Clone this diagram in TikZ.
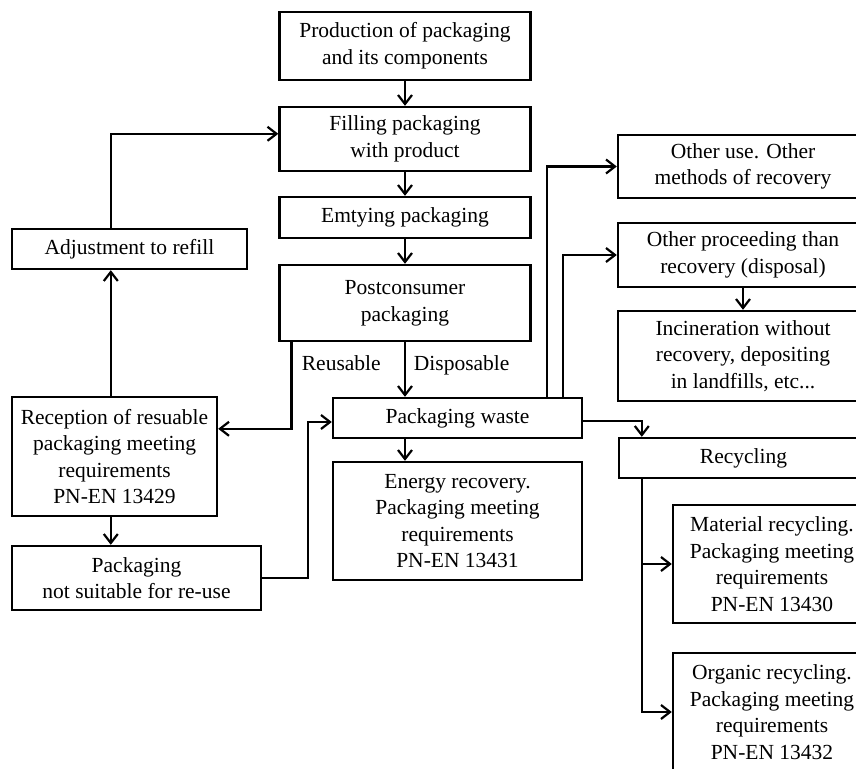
\documentclass[tikz,border=0pt]{standalone}
\usepackage{fontspec}
\setmainfont{Liberation Serif}
\usetikzlibrary{arrows.meta,calc}

\tikzset{
  box/.style={draw, line width=1.2pt, align=center, inner sep=1pt,
    font=\fontsize{10.75}{13.3}\selectfont},
  arr/.style={line width=1.2pt, -{Straight Barb[length=4.5pt,width=7pt,line width=1.1pt]}},
  lbl/.style={inner sep=0.75pt, font=\fontsize{10.75}{13.3}\selectfont}
}

\begin{document}
\begin{tikzpicture}[x=0.5pt,y=0.5pt,yscale=-1,xscale=1]
\useasboundingbox (0,0) rectangle (856,769);
\clip (0,0) rectangle (856,769);

% main column
\node [box, minimum width=125.5pt, minimum height=34pt] (prod) at (405,46) {Production of packaging\\and its components};
\node [box, minimum width=125.5pt, minimum height=32pt] (fill) at (405,139) {Filling packaging\\with product};
\node [box, minimum width=125.5pt, minimum height=20.5pt] (empty) at (405,217.5) {Emtying packaging};
\node [box, minimum width=125.5pt, minimum height=38pt] (post) at (405,303) {Postconsumer\\packaging};
\node [box, minimum width=124.5pt, minimum height=20pt] (waste) at (457.5,418) {Packaging waste};
\node [box, minimum width=124.5pt, minimum height=59pt] (energy) at (457.5,521) {Energy recovery.\\Packaging meeting\\requirements\\PN-EN 13431};

% left column
\node [box, minimum width=117.5pt, minimum height=20pt] (adjust) at (129.5,249) {Adjustment to refill};
\node [box, minimum width=102.5pt, minimum height=59.5pt] (recep) at (114.5,456.5) {Reception of resuable\\packaging meeting\\requirements\\PN-EN 13429};
\node [box, minimum width=124.5pt, minimum height=32pt] (notsuit) at (136.5,578) {Packaging\\not suitable for re-use};

% right column
\node [box, minimum width=125pt, minimum height=31.5pt] (otheruse) at (743,166.5) {Other use. Other\\methods of recovery};
\node [box, minimum width=125pt, minimum height=32pt] (otherproc) at (743,255) {Other proceeding than\\recovery (disposal)};
\node [box, minimum width=125pt, minimum height=45pt] (incin) at (743,356) {Incineration without\\recovery, depositing\\in landfills, etc...};
\node [box, minimum width=124.5pt, minimum height=20pt] (recyc) at (743.5,458) {Recycling};
\node [box, minimum width=99pt, minimum height=59pt] (material) at (772,564) {Material recycling.\\Packaging meeting\\requirements\\PN-EN 13430};
\node [box, minimum width=99pt, minimum height=59pt] (organic) at (772,712) {Organic recycling.\\Packaging meeting\\requirements\\PN-EN 13432};

% Text Node
\node [lbl, anchor=west] (reus) at (300,363) {Reusable};
% Text Node
\node [lbl, anchor=west] (disp) at (412,365) {Disposable};

\coordinate (rtrunk) at ($(recyc.south west)+(24,0)$);

%Straight Lines
\draw [arr] (prod) -- (fill);
\draw [arr] (fill) -- (empty);
\draw [arr] (empty) -- (post);
\draw [arr] (post.south) -- (post.south |- waste.north);
\draw [arr] (post.south |- waste.south) -- (post.south |- energy.north);
\draw [arr] ($(post.south west)+(13,0)$) |- ($(recep.north east)+(0,33)$);
\draw [arr] ($(recep.north west)+(100,0)$) -- ($(adjust.south west)+(100,0)$);
\draw [arr] ($(adjust.north west)+(100,0)$) |- ($(fill.north west)+(0,28)$);
\draw [arr] ($(recep.south west)+(100,0)$) -- ($(notsuit.north west)+(100,0)$);
\draw [arr] (notsuit.east) -- ($(notsuit.east)+(46,0)$) |- ($(waste.west)+(0,4)$);
\draw [arr] ($(waste.north east)+(-36,0)$) |- (otheruse.west);
\draw [arr] ($(waste.north east)+(-20,0)$) |- (otherproc.west);
\draw [arr] (otherproc) -- (incin);
\draw [arr] ($(waste.east)+(0,3)$) -| (rtrunk |- recyc.north);
\draw [arr] (rtrunk) |- (organic.west);
\draw [arr] (rtrunk |- material.west) -- (material.west);

\end{tikzpicture}
\end{document}
